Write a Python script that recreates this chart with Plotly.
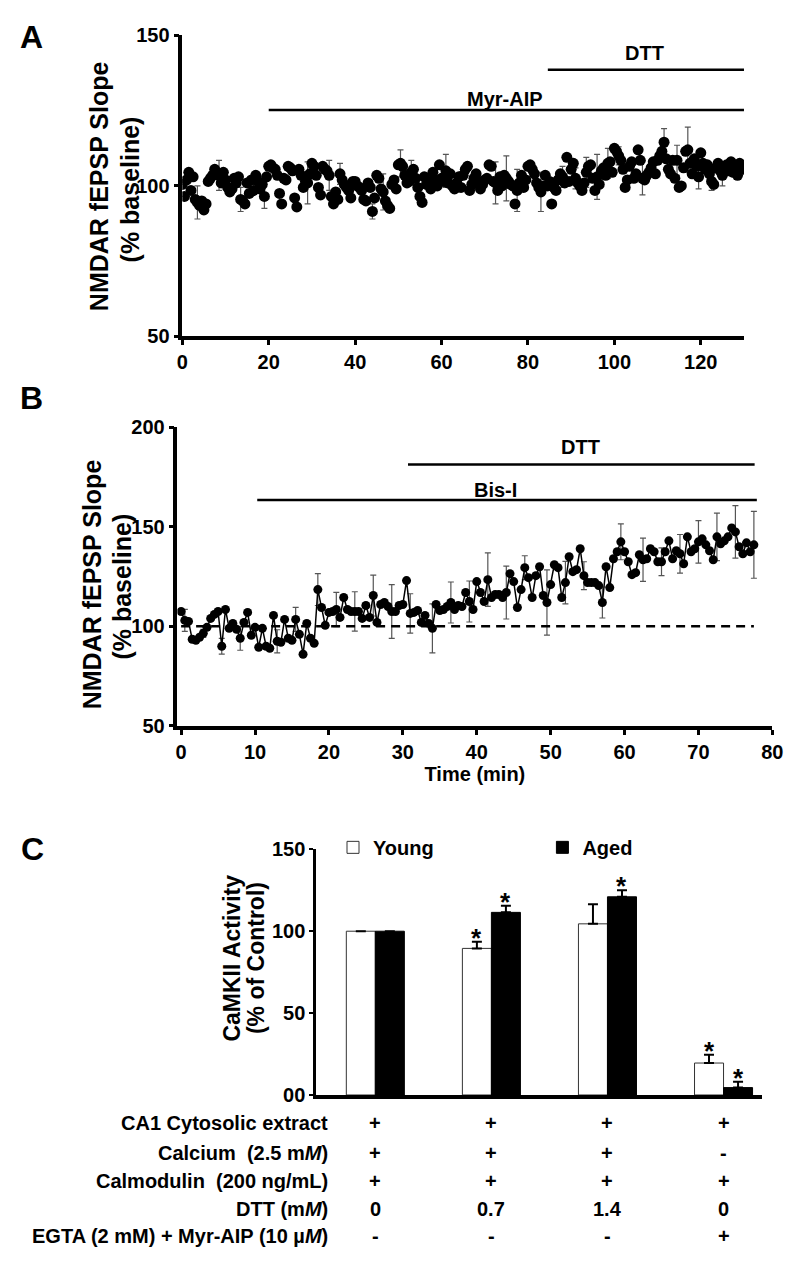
import plotly.graph_objects as go

FONT = "Liberation Sans"

# ---------------- Panel A : NMDAR fEPSP slope, Myr-AIP then DTT ----------------
a_interval_min = 0.5
a_slope = [
    100.5, 96.5, 102.0, 104.5, 98.5, 103.0, 95.5, 94.5, 93.5, 95.0, 92.0, 94.0, 101.5, 102.5, 103.5, 105.5, 104.0, 103.5, 101.0, 104.5,
    102.0, 99.5, 98.0, 99.0, 102.5, 101.0, 103.0, 95.5, 95.0, 94.0, 101.0, 97.5, 102.0, 98.5, 103.5, 101.5, 99.0, 100.5, 96.5, 103.0,
    106.5, 107.0, 106.0, 105.5, 103.5, 97.5, 94.0, 102.5, 102.0, 106.5, 106.0, 105.0, 96.0, 93.0, 105.5, 103.5, 99.5, 101.5, 101.0, 104.0,
    107.5, 106.5, 103.5, 99.5, 97.0, 106.5, 105.5, 105.0, 103.5, 96.5, 94.0, 98.0, 95.5, 104.0, 102.0, 100.5, 99.5, 98.5, 96.0, 101.5,
    101.5, 100.0, 99.5, 98.5, 95.5, 95.0, 101.0, 99.5, 91.5, 96.0, 103.5, 102.5, 99.0, 98.0, 95.0, 93.5, 92.5, 100.5, 102.0, 99.0,
    107.0, 107.5, 106.5, 103.5, 101.0, 101.5, 104.5, 105.5, 102.5, 99.5, 96.5, 94.5, 103.0, 100.5, 101.5, 99.0, 104.5, 102.0, 100.0, 107.0,
    102.5, 101.5, 105.0, 101.0, 104.0, 100.0, 99.0, 101.0, 103.0, 99.5, 103.5, 105.5, 106.5, 98.5, 100.5, 102.5, 104.0, 101.5, 99.0, 100.5,
    102.0, 102.5, 107.0, 106.5, 101.5, 101.0, 98.5, 103.0, 100.0, 103.5, 102.5, 101.5, 100.5, 100.0, 94.0, 98.5, 101.0, 103.5, 99.5, 102.0,
    106.5, 107.0, 105.5, 104.0, 101.0, 99.5, 98.0, 100.0, 103.5, 100.0, 101.5, 94.0, 99.5, 98.5, 102.0, 104.0, 103.0, 101.0, 109.5, 101.5,
    105.5, 107.5, 102.5, 101.0, 100.0, 98.5, 101.0, 104.5, 106.5, 107.0, 102.5, 98.5, 103.0, 100.5, 105.0, 106.0, 103.5, 107.5, 108.0, 104.5,
    112.5, 111.5, 110.0, 108.5, 105.5, 99.5, 102.0, 106.5, 108.0, 102.5, 104.0, 112.0, 108.5, 102.5, 102.0, 103.5, 104.5, 106.0, 108.0, 104.0,
    108.5, 110.0, 111.5, 114.5, 109.0, 105.5, 104.0, 108.5, 102.5, 108.5, 99.5, 100.0, 106.0, 111.5, 112.0, 107.5, 104.0, 109.0, 106.5, 103.0,
    111.0, 107.5, 105.5, 107.0, 104.0, 101.5, 100.5, 106.0, 107.5, 105.0, 103.5, 106.5, 107.0, 105.0, 108.0, 104.5, 106.0, 103.5, 107.5, 106.0,
    105.5,
]
a_sem = [
    0, 0, 0, 0, 0, 0, 0, 5.5, 0, 0, 0, 0, 0, 0, 0, 0, 0, 5.0, 0, 0,
    0, 0, 0, 0, 0, 0, 0, 4.0, 0, 0, 0, 0, 0, 0, 0, 0, 0, 0, 4.0, 0,
    0, 0, 0, 0, 0, 0, 0, 0, 0, 0, 0, 0, 0, 0, 0, 0, 0, 0, 7.0, 0,
    0, 0, 0, 0, 0, 0, 0, 0, 5.0, 0, 0, 0, 0, 3.5, 0, 0, 0, 0, 0, 0,
    0, 0, 0, 0, 0, 0, 0, 0, 2.5, 0, 0, 0, 0, 6.0, 0, 0, 0, 0, 0, 0,
    0, 4.5, 0, 0, 0, 0, 4.0, 0, 0, 0, 0, 0, 0, 0, 0, 0, 0, 0, 0, 0,
    0, 0, 5.5, 0, 0, 0, 0, 3.0, 0, 0, 0, 0, 0, 0, 0, 0, 0, 0, 0, 0,
    0, 0, 0, 0, 0, 7.0, 0, 0, 0, 0, 7.5, 0, 0, 0, 0, 7.0, 0, 0, 0, 0,
    0, 0, 0, 0, 0, 0, 6.5, 0, 0, 0, 0, 0, 0, 0, 0, 0, 3.5, 0, 0, 0,
    0, 0, 3.5, 0, 0, 0, 0, 5.0, 0, 0, 0, 0, 7.5, 0, 0, 0, 0, 5.0, 0, 0,
    0, 0, 3.0, 0, 0, 0, 0, 0, 0, 0, 0, 0, 0, 5.5, 0, 0, 0, 0, 0, 0,
    0, 0, 0, 4.5, 0, 0, 0, 0, 0, 5.0, 0, 0, 0, 0, 7.5, 0, 0, 0, 0, 4.0,
    0, 0, 0, 0, 0, 3.0, 0, 0, 0, 0, 3.5, 0, 0, 0, 0, 0, 0, 0, 0, 0,
    0,
]
a_drugs = ["Myr-AIP", "DTT"]
a_drug_start = [20.0, 84.6]
a_drug_end = [132.0, 132.0]

# ---------------- Panel B : Bis-I then DTT ----------------
b_interval_min = 0.5
b_slope = [
    107.5, 103.0, 102.5, 93.5, 93.0, 94.5, 96.5, 99.5, 104.0, 106.0, 107.5, 90.0, 108.5, 99.0, 101.5, 98.5, 94.0, 102.0, 107.0, 95.5,
    99.5, 89.5, 99.0, 90.0, 89.0, 105.5, 92.5, 92.0, 103.5, 94.0, 93.0, 103.5, 96.0, 86.0, 101.5, 94.0, 91.5, 118.5, 109.5, 100.5,
    107.0, 107.5, 108.5, 104.5, 114.5, 108.5, 107.5, 107.5, 107.5, 104.0, 110.5, 104.5, 115.5, 102.0, 111.0, 112.0, 110.0, 107.5, 107.5, 110.5,
    111.0, 123.0, 106.5, 107.0, 108.0, 102.0, 105.5, 101.5, 99.0, 111.0, 108.0, 108.5, 110.0, 112.0, 108.5, 110.5, 110.0, 117.0, 112.5, 108.5,
    122.5, 117.0, 112.5, 123.5, 114.5, 116.0, 116.0, 114.5, 117.0, 126.5, 122.5, 109.5, 118.5, 129.5, 124.5, 114.5, 125.5, 130.0, 115.5, 112.0,
    121.0, 131.0, 129.5, 114.5, 122.0, 135.0, 127.5, 128.5, 139.0, 125.5, 122.0, 122.0, 122.0, 120.5, 112.0, 130.0, 119.5, 134.0, 137.5, 142.5,
    137.5, 132.5, 126.0, 127.0, 136.0, 133.5, 134.0, 139.0, 137.5, 132.5, 132.5, 137.5, 143.0, 134.0, 138.0, 136.5, 131.5, 145.0, 137.5, 139.0,
    142.5, 144.0, 141.0, 138.0, 133.5, 145.0, 141.5, 143.0, 145.0, 149.5, 147.5, 140.0, 136.5, 142.0, 137.5, 141.0,
]
b_sem = [
    0, 5.5, 0, 0, 0, 0, 2.0, 0, 0, 0, 0, 4.0, 0, 0, 0, 0, 6.0, 0, 0, 0,
    0, 0, 0, 0, 0, 0, 5.8, 0, 0, 0, 0, 6.0, 0, 0, 0, 0, 0, 8.0, 0, 0,
    0, 0, 8.6, 0, 0, 0, 0, 9.9, 0, 0, 0, 0, 10.3, 0, 0, 0, 0, 13.5, 0, 0,
    0, 0, 9.9, 0, 0, 0, 0, 0, 12.3, 0, 0, 0, 0, 10.3, 0, 0, 0, 0, 10.3, 0,
    0, 0, 0, 13.5, 0, 0, 0, 0, 13.3, 0, 0, 0, 0, 6.0, 0, 0, 0, 0, 0, 16.4,
    0, 0, 0, 0, 10.7, 0, 0, 0, 0, 7.0, 0, 0, 0, 0, 7.8, 0, 0, 0, 0, 9.0,
    0, 0, 0, 0, 0, 10.9, 0, 0, 0, 0, 7.0, 0, 0, 0, 0, 9.7, 0, 0, 0, 0,
    10.7, 0, 0, 0, 0, 11.9, 0, 0, 0, 0, 13.2, 0, 0, 0, 0, 16.8,
]
b_drugs = ["Bis-I", "DTT"]
b_drug_start = [10.3, 30.7]
b_drug_end = [77.9, 77.6]
b_baseline = 100

# ---------------- Panel C : CaMKII activity ----------------
c_conditions = [0, 1, 2, 3]
c_young = [100, 89.5, 104.5, 19.5]
c_young_sem = [0, 4.0, 12.0, 5.0]
c_aged = [100, 111.5, 121.0, 4.5]
c_aged_sem = [0, 4.0, 4.0, 3.5]
c_young_sig = [False, True, False, True]
c_aged_sig = [False, True, True, True]
c_row_labels = [
    "CA1 Cytosolic extract",
    "Calcium  (2.5 m<i>M</i>)",
    "Calmodulin  (200 ng/mL)",
    "DTT (m<i>M</i>)",
    "EGTA (2 mM) + Myr-AIP (10 µ<i>M</i>)",
]
c_row_values = [
    ["+", "+", "+", "+"],
    ["+", "+", "+", "-"],
    ["+", "+", "+", "+"],
    ["0", "0.7", "1.4", "0"],
    ["-", "-", "-", "+"],
]

# ---------------- layout constants ----------------
W, H = 792, 1266
def px_x(v):
    return v / W
def px_y(v):
    return 1 - v / H

a_time = [i * a_interval_min for i in range(len(a_slope))]
b_time = [i * b_interval_min for i in range(len(b_slope))]

bold = dict(family=FONT, color="black", weight="bold")
tickfont = dict(family=FONT, color="black", size=20, weight="bold")

fig = go.Figure()

fig.add_trace(go.Scatter(
    x=a_time, y=a_slope, mode="markers", xaxis="x", yaxis="y", showlegend=False,
    marker=dict(color="black", size=11),
    error_y=dict(type="data", array=a_sem, color="#555555", thickness=1.2, width=3),
))
fig.add_trace(go.Scatter(
    x=b_time, y=b_slope, mode="lines+markers", xaxis="x2", yaxis="y2", showlegend=False,
    marker=dict(color="black", size=9), line=dict(color="black", width=1.5),
    error_y=dict(type="data", array=b_sem, color="#555555", thickness=1.2, width=3),
))
fig.add_trace(go.Bar(
    x=c_conditions, y=c_young, name="Young", xaxis="x3", yaxis="y3", legend="legend",
    marker=dict(color="white", line=dict(color="#333333", width=1)),
    error_y=dict(type="data", array=c_young_sem, arrayminus=[0] * len(c_young), symmetric=False,
                 color="black", thickness=2, width=5),
))
fig.add_trace(go.Bar(
    x=c_conditions, y=c_aged, name="Aged", xaxis="x3", yaxis="y3", legend="legend2",
    marker=dict(color="black", line=dict(color="black", width=1)),
    error_y=dict(type="data", array=c_aged_sem, arrayminus=[0] * len(c_aged), symmetric=False,
                 color="black", thickness=2, width=5),
))

axis_common = dict(showline=True, linecolor="black", showgrid=False, zeroline=False,
                   ticks="outside", tickcolor="black", tickfont=tickfont)

shapes = []
annotations = []

# drug bars panel A
a_levels = [125.2, 138.6]
a_text_x = [74.7, 107.0]
a_text_y = [128.9, 144.3]
for name, s, e, lvl, tx, ty in zip(a_drugs, a_drug_start, a_drug_end, a_levels, a_text_x, a_text_y):
    shapes.append(dict(type="line", xref="x", yref="y", x0=s, x1=e, y0=lvl, y1=lvl,
                       line=dict(color="black", width=2.5)))
    annotations.append(dict(xref="x", yref="y", x=tx, y=ty, text=name, showarrow=False,
                            font=dict(bold, size=20)))

# drug bars panel B
b_levels = [163.5, 181.4]
b_text_x = [42.6, 54.0]
b_text_y = [168.7, 190.0]
for name, s, e, lvl, tx, ty in zip(b_drugs, b_drug_start, b_drug_end, b_levels, b_text_x, b_text_y):
    shapes.append(dict(type="line", xref="x2", yref="y2", x0=s, x1=e, y0=lvl, y1=lvl,
                       line=dict(color="black", width=2.5)))
    annotations.append(dict(xref="x2", yref="y2", x=tx, y=ty, text=name, showarrow=False,
                            font=dict(bold, size=20)))
shapes.append(dict(type="line", xref="x2", yref="y2", x0=0, x1=b_time[-1], y0=b_baseline, y1=b_baseline,
                   line=dict(color="black", width=2.5, dash="9px,6px")))

# panel letters
for letter, lx, ly in [("A", 18, 18), ("B", 18, 386), ("C", 19, 845)]:
    annotations.append(dict(xref="paper", yref="paper", x=px_x(lx), y=px_y(ly), text=letter,
                            showarrow=False, xanchor="center", yanchor="middle",
                            font=dict(bold, size=32)))

# y titles (rotated)
ytitles = [
    ("NMDAR fEPSP Slope", 87, 170, 25), ("(% baseline)", 119, 173, 25),
    ("NMDAR fEPSP Slope", 80, 575, 25), ("(% baseline)", 110, 578, 25),
    ("CaMKII Activity", 223, 956, 23), ("(% of Control)", 248, 956, 23),
]
for txt, tx, ty, fs in ytitles:
    annotations.append(dict(xref="paper", yref="paper", x=px_x(tx), y=px_y(ty), text=txt,
                            textangle=-90, showarrow=False, xanchor="center", yanchor="middle",
                            font=dict(bold, size=fs)))

# significance asterisks panel C
for i, (v, s, sig) in enumerate(zip(c_young, c_young_sem, c_young_sig)):
    if sig:
        annotations.append(dict(xref="x3", yref="y3", x=c_conditions[i] - 0.125, y=v + s, text="*",
                                showarrow=False, yanchor="middle", yshift=4, font=dict(bold, size=26)))
for i, (v, s, sig) in enumerate(zip(c_aged, c_aged_sem, c_aged_sig)):
    if sig:
        annotations.append(dict(xref="x3", yref="y3", x=c_conditions[i] + 0.125, y=v + s, text="*",
                                showarrow=False, yanchor="middle", yshift=4, font=dict(bold, size=26)))

# condition table under panel C
row_y = [1124, 1154, 1183, 1211, 1239]
for label, vals, ry in zip(c_row_labels, c_row_values, row_y):
    annotations.append(dict(xref="paper", yref="paper", x=px_x(323), y=px_y(ry), text=label,
                            showarrow=False, xanchor="right", yanchor="middle",
                            font=dict(bold, size=20)))
    for ci, v in zip(c_conditions, vals):
        annotations.append(dict(xref="x3", yref="paper", x=ci, y=px_y(ry), text=v,
                                showarrow=False, xanchor="center", yanchor="middle",
                                font=dict(bold, size=20)))

fig.update_layout(
    width=W, height=H, autosize=False,
    margin=dict(l=0, r=0, t=0, b=0),
    paper_bgcolor="white", plot_bgcolor="white",
    font=dict(family=FONT, color="black"),
    barmode="group", bargap=0.5, bargroupgap=0,
    xaxis=dict(axis_common, domain=[px_x(172), px_x(746)], range=[0, 130],
               tickvals=[0, 20, 40, 60, 80, 100, 120], linewidth=3.5, ticklen=5, tickwidth=2.5,
               anchor="y"),
    yaxis=dict(axis_common, domain=[px_y(323), px_y(16.7)], range=[50, 150],
               tickvals=[50, 100, 150], linewidth=3.5, ticklen=5, tickwidth=2.5, anchor="x"),
    xaxis2=dict(axis_common, domain=[px_x(167), px_x(775)], range=[-0.5, 80],
                tickvals=[0, 10, 20, 30, 40, 50, 60, 70, 80], linewidth=3.5, ticklen=5, tickwidth=2.5,
                anchor="y2",
                title=dict(text="Time (min)", font=dict(bold, size=20), standoff=6)),
    yaxis2=dict(axis_common, domain=[px_y(719.3), px_y(415.7)], range=[50, 200],
                tickvals=[50, 100, 150, 200], linewidth=3.5, ticklen=5, tickwidth=2.5, anchor="x2"),
    xaxis3=dict(showline=True, linecolor="black", linewidth=3.5, showgrid=False, zeroline=False,
                ticks="", showticklabels=False, domain=[px_x(309), px_x(764.6)],
                range=[-0.508, 3.333], anchor="y3"),
    yaxis3=dict(axis_common, domain=[px_y(1095), px_y(845)], range=[0, 150],
                tickvals=[0, 50, 100, 150], ticktext=["00", "50", "100", "150"],
                linewidth=3, ticklen=4, tickwidth=2, anchor="x3"),
    legend=dict(x=px_x(326), y=px_y(843), xanchor="left", yanchor="middle",
                bgcolor="rgba(0,0,0,0)", font=dict(bold, size=20)),
    legend2=dict(x=px_x(540), y=px_y(843), xanchor="left", yanchor="middle",
                 bgcolor="rgba(0,0,0,0)", font=dict(bold, size=20)),
    shapes=shapes,
    annotations=annotations,
)

fig.write_html("out.html")
